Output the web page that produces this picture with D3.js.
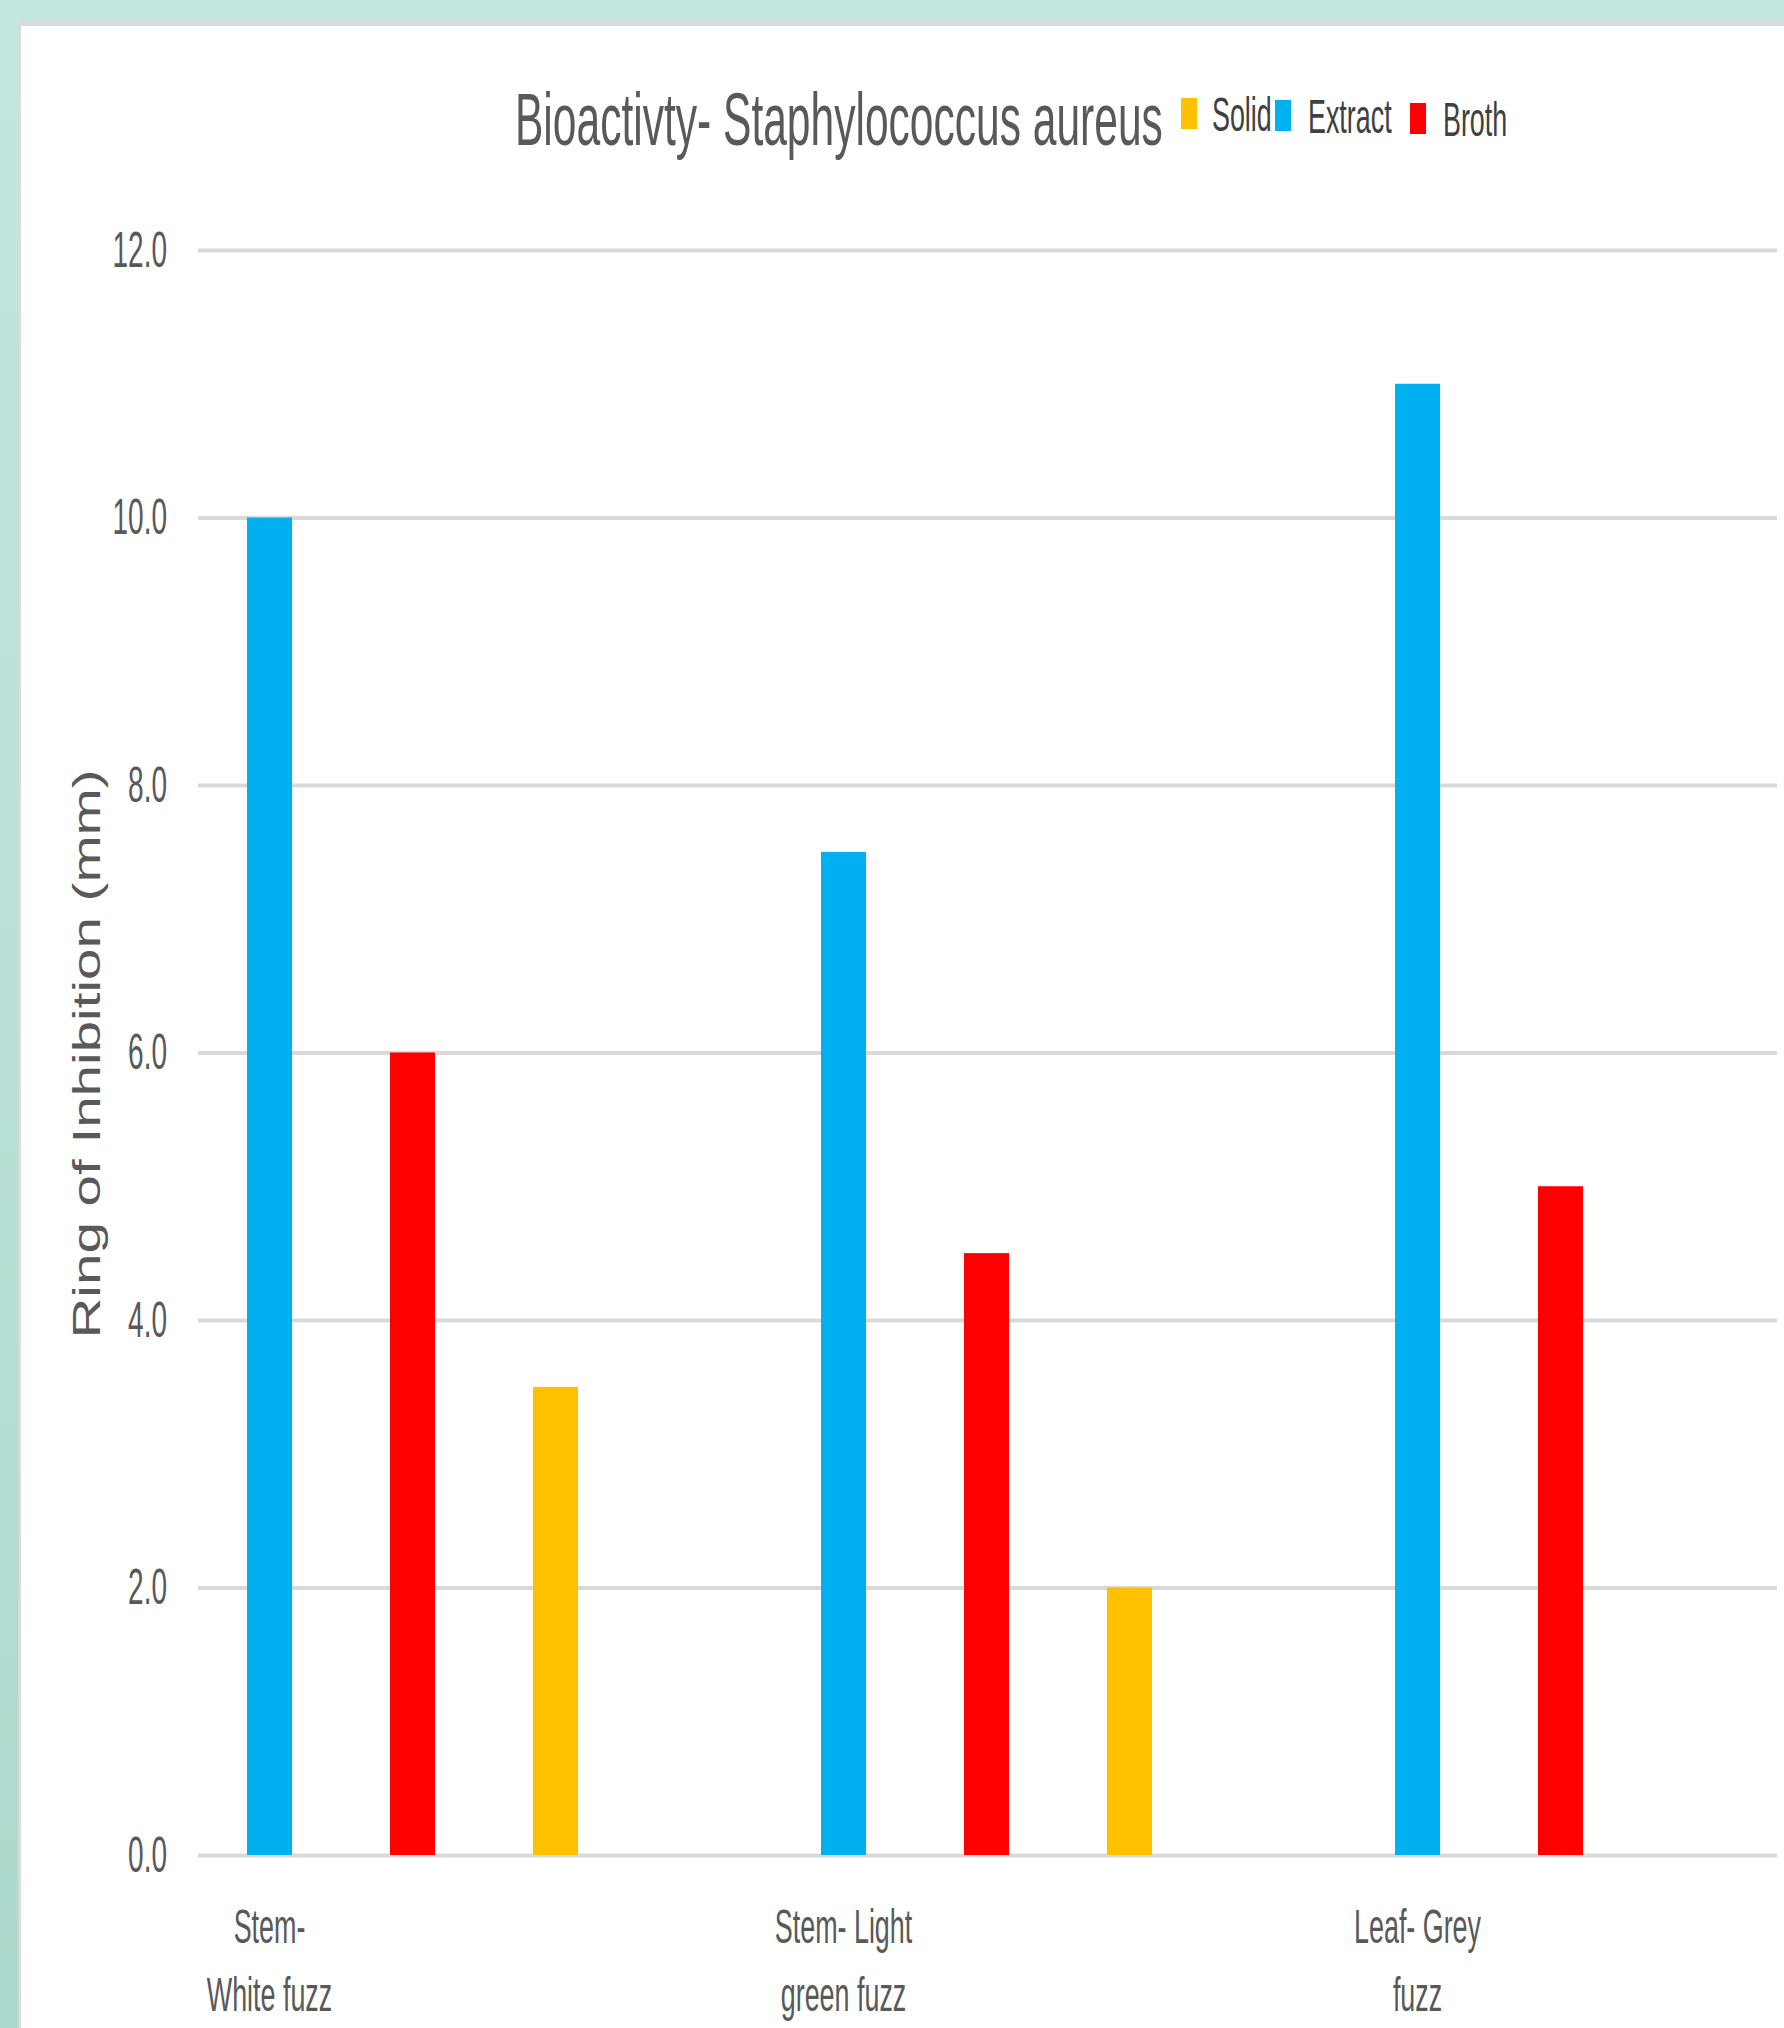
<!DOCTYPE html>
<html>
<head>
<meta charset="utf-8">
<script src="https://cdn.jsdelivr.net/npm/d3@7"></script>
<style>
  html, body { margin: 0; padding: 0; background: #ffffff; }
  svg { display: block; }
  text { font-family: "Liberation Sans", Arial, sans-serif; }
</style>
</head>
<body>
<script>
// ---- data ----
const categories = ["Stem- White fuzz", "Stem- Light green fuzz", "Leaf- Grey fuzz"];
const categoryLines = [["Stem-", "White fuzz"], ["Stem- Light", "green fuzz"], ["Leaf- Grey", "fuzz"]];
const seriesOrder = ["Extract", "Broth", "Solid"];
const extractValues = [10.0, 7.5, 11.0];
const brothValues = [6.0, 4.5, 5.0];
const solidValues = [3.5, 2.0, 0];
const yTicks = [0, 2, 4, 6, 8, 10, 12];
const legendOrder = ["Solid", "Extract", "Broth"];
const titleText = "Bioactivty- Staphylococcus aureus";
const yTitleText = "Ring of Inhibition (mm)";

const seriesValues = { Extract: extractValues, Broth: brothValues, Solid: solidValues };
const colors = { Solid: "#FFC000", Extract: "#00B0F0", Broth: "#FF0000" };

// ---- layout ----
const W = 1784, H = 2028;
const plotLeft = 198, plotRight = 1777, plotTop = 250, plotBottom = 1855;
const SX = 0.56; // horizontal squish of the reference

const svg = d3.select("body").append("svg").attr("width", W).attr("height", H);

// background frame
const defs = svg.append("defs");
const grad = defs.append("linearGradient").attr("id", "leftGrad").attr("x1", 0).attr("y1", 0).attr("x2", 0).attr("y2", 1);
grad.append("stop").attr("offset", "0%").attr("stop-color", "#c4e7df");
grad.append("stop").attr("offset", "100%").attr("stop-color", "#acd9cd");
svg.append("rect").attr("x", 0).attr("y", 0).attr("width", W).attr("height", H).attr("fill", "url(#leftGrad)");
svg.append("rect").attr("x", 0).attr("y", 0).attr("width", W).attr("height", 21).attr("fill", "#c4e7df");
svg.append("rect").attr("x", 18).attr("y", 20).attr("width", W - 18).attr("height", H - 20).attr("fill", "#d6dcda");
svg.append("rect").attr("x", 21).attr("y", 26).attr("width", W - 21).attr("height", H - 26).attr("fill", "#ffffff");

// place a text at (x,y) squished horizontally by sx
function placeSquished(sel, x, y, sx) {
  sel.attr("x", 0).attr("y", 0).attr("transform", `translate(${x},${y}) scale(${sx},1)`);
}

// scales
const y = d3.scaleLinear().domain([0, 12]).range([plotBottom, plotTop]);
const x0 = d3.scaleBand().domain(categories).range([247, 247 + 3 * 574]).paddingInner(0).paddingOuter(0);
const x1 = d3.scaleBand().domain(seriesOrder).range([0, 2 * 143 + 45]).paddingInner(0.685).paddingOuter(0);

// y axis with gridlines
const yAxis = d3.axisLeft(y).tickValues(yTicks).tickFormat(d3.format(".1f"))
  .tickSize(-(plotRight - plotLeft)).tickPadding(31);
const gy = svg.append("g").attr("transform", `translate(${plotLeft},0)`).call(yAxis);
gy.select(".domain").remove();
gy.selectAll(".tick line").attr("stroke", "#d9d9d9").attr("stroke-width", 4);
gy.selectAll(".tick text")
  .attr("fill", "#595959").attr("font-size", 50)
  .attr("font-family", "Liberation Sans, Arial, sans-serif")
  .attr("dy", "0.32em")
  .each(function () { placeSquished(d3.select(this), -31, 0, SX); });

// bars
const groups = svg.append("g").selectAll("g").data(categories).join("g")
  .attr("transform", c => `translate(${x0(c)},0)`);
groups.selectAll("rect")
  .data((c, i) => seriesOrder.map(s => ({ s, v: seriesValues[s][i] })))
  .join("rect")
  .attr("x", d => x1(d.s))
  .attr("width", x1.bandwidth())
  .attr("y", d => y(d.v))
  .attr("height", d => y(0) - y(d.v))
  .attr("fill", d => colors[d.s]);

// category labels
const catG = svg.append("g");
categories.forEach((c, i) => {
  const cx = x0(c) + x1.bandwidth() / 2;
  categoryLines[i].forEach((line, j) => {
    catG.append("text")
      .attr("text-anchor", "middle")
      .attr("fill", "#595959").attr("font-size", 48)
      .text(line)
      .call(placeSquished, cx, 1943 + j * 68, SX);
  });
});

// title
const title = svg.append("text")
  .attr("fill", "#595959").attr("font-size", 74)
  .text(titleText);
const titleLen = title.node().getComputedTextLength();
title.call(placeSquished, 515, 145, 648 / titleLen);

// legend
const legendX = [1181, 1275, 1410];
const legendRectY = [98, 100, 103];
const legendG = svg.append("g");
legendOrder.forEach((s, i) => {
  legendG.append("rect")
    .attr("x", legendX[i]).attr("y", legendRectY[i])
    .attr("width", 16).attr("height", 31)
    .attr("fill", colors[s]);
  legendG.append("text")
    .attr("fill", "#404040").attr("font-size", 48)
    .text(s)
    .call(placeSquished, legendX[i] + (i === 0 ? 31 : 33), legendRectY[i] + 33, SX);
});

// y-axis title
svg.append("text")
  .attr("transform", "translate(100,1054) rotate(-90)")
  .attr("text-anchor", "middle")
  .attr("fill", "#595959").attr("font-size", 38)
  .text(yTitleText)
  .attr("textLength", 569).attr("lengthAdjust", "spacingAndGlyphs");
</script>
</body>
</html>
